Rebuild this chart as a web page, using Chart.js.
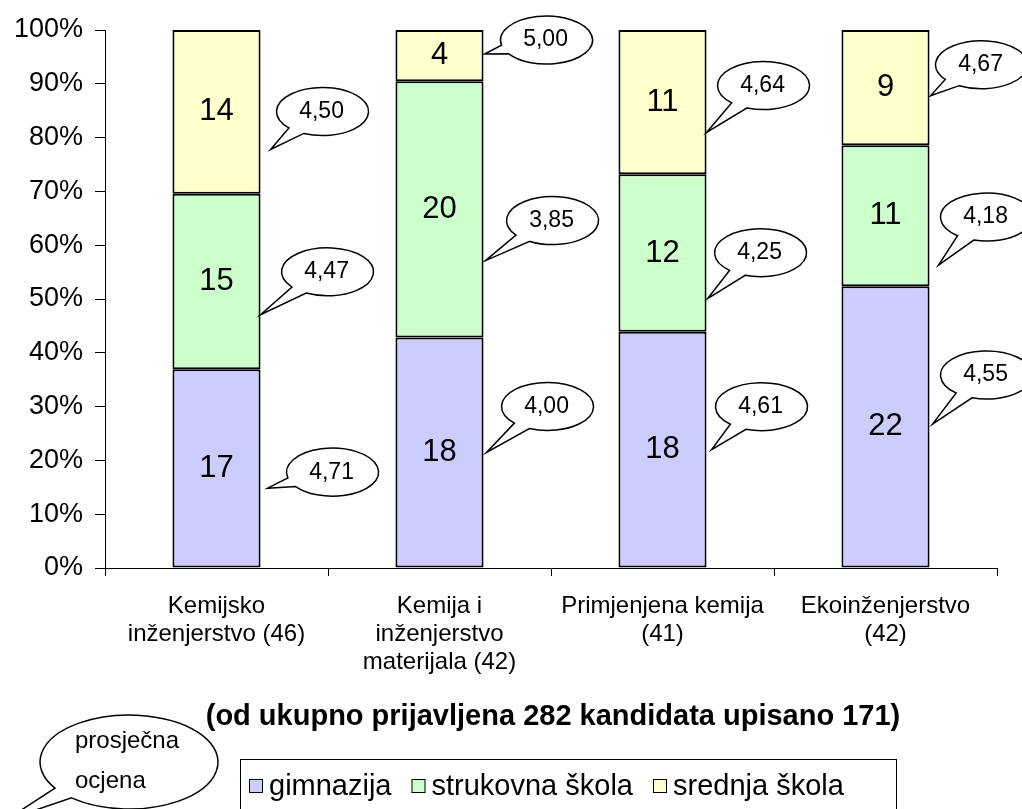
<!DOCTYPE html>
<html>
<head>
<meta charset="utf-8">
<script src="https://cdn.jsdelivr.net/npm/chart.js@4"></script>
<style>
  body { margin: 0; background: #fff; }
  #wrap { width: 1022px; height: 809px; }
</style>
</head>
<body>
<div id="wrap"><canvas id="chart" width="1022" height="809"></canvas></div>
<script>
// Data
const categories = [
    ['Kemijsko', 'inženjerstvo (46)'],
    ['Kemija i', 'inženjerstvo', 'materijala (42)'],
    ['Primjenjena kemija', '(41)'],
    ['Ekoinženjerstvo', '(42)']
];
const seriesNames = ['gimnazija', 'strukovna škola', 'srednja škola'];
const gimnazija = [17, 18, 18, 22];
const strukovna = [15, 20, 12, 11];
const srednja = [14, 4, 11, 9];

// prosječna ocjena (average grade) per series / category
const ocjenaGimnazija = [4.71, 4.00, 4.61, 4.55];
const ocjenaStrukovna = [4.47, 3.85, 4.25, 4.18];
const ocjenaSrednja = [4.50, 5.00, 4.64, 4.67];

const yTicks = [0, 10, 20, 30, 40, 50, 60, 70, 80, 90, 100];
const titleText = '(od ukupno prijavljena 282 kandidata upisano 171)';
const bubbleNote = ['prosječna', 'ocjena'];

// Styles
const fills = ['#CCCCFF', '#CCFFCC', '#FFFFCC'];
const FONT = '"Liberation Sans", Arial, sans-serif';

// bubble placement: [fraction up the segment, gap from bar, dx, dy]
const bubbleSpots = [
    [[0.40, 7, 65, -16], [0.50, 3, 61, -46], [0.50, 5, 50, -43], [0.51, 3, 54, -49]],
    [[0.31, 0, 67, -43], [0.30, 2, 67, -40], [0.21, 1, 53, -46], [0.15, 9, 48, -48]],
    [[0.27, 10, 52, -38], [0.53, 1, 62, -14], [0.29, 0, 57, -47], [0.43, 1, 51, -31]]
];

const counts = [gimnazija, strukovna, srednja];
const grades = [ocjenaGimnazija, ocjenaStrukovna, ocjenaSrednja];
const totals = gimnazija.map((v, i) => v + strukovna[i] + srednja[i]);
const toPct = arr => arr.map((v, i) => v / totals[i] * 100);

const fmt = v => v.toFixed(2).replace('.', ',');

const drawBubble = (ctx, cx, cy, rx, ry, tx, ty, spread) => {
    const th = Math.atan2((ty - cy) / ry, (tx - cx) / rx);
    ctx.beginPath();
    ctx.ellipse(cx, cy, rx, ry, 0, th + spread, th - spread + Math.PI * 2);
    ctx.lineTo(tx, ty);
    ctx.closePath();
    ctx.fillStyle = '#fff';
    ctx.fill();
    ctx.lineWidth = 1.5;
    ctx.strokeStyle = '#000';
    ctx.stroke();
};

const extrasPlugin = {
    id: 'extras',
    afterDatasetsDraw(chart) {
        const ctx = chart.ctx;
        ctx.save();
        counts.forEach((arr, s) => {
            const meta = chart.getDatasetMeta(s);
            meta.data.forEach((el, j) => {
                // count in the middle of the segment
                ctx.fillStyle = '#000';
                ctx.font = '31px ' + FONT;
                ctx.textAlign = 'center';
                ctx.textBaseline = 'middle';
                ctx.fillText(String(arr[j]), el.x, (el.y + el.base) / 2);

                // grade bubble
                const sp = bubbleSpots[s][j];
                const tx = el.x + el.width / 2 + sp[1];
                const ty = el.base + sp[0] * (el.y - el.base);
                const cx = tx + sp[2], cy = ty + sp[3];
                drawBubble(ctx, cx, cy, 46, 24, tx, ty, 0.2);
                ctx.fillStyle = '#000';
                ctx.font = '23px ' + FONT;
                ctx.fillText(fmt(grades[s][j]), cx - 1, cy);
            });
        });
        ctx.restore();
    },
    afterDraw(chart) {
        const ctx = chart.ctx;
        ctx.save();
        // title
        ctx.fillStyle = '#000';
        ctx.font = 'bold 29px ' + FONT;
        ctx.textAlign = 'center';
        ctx.textBaseline = 'middle';
        ctx.fillText(titleText, 553, 717);

        // legend box
        ctx.lineWidth = 1;
        ctx.strokeStyle = '#000';
        ctx.strokeRect(240.5, 759.5, 656, 60);
        ctx.font = '29px ' + FONT;
        ctx.textAlign = 'left';
        let x = 249;
        seriesNames.forEach((name, i) => {
            ctx.fillStyle = fills[i];
            ctx.fillRect(x, 779, 14, 14);
            ctx.strokeRect(x + 0.5, 779.5, 13, 13);
            ctx.fillStyle = '#000';
            ctx.fillText(name, x + 20, 787);
            x += 20 + ctx.measureText(name).width + 20;
        });

        // note bubble
        drawBubble(ctx, 129, 762, 89, 47, 6, 820, 0.14);
        ctx.fillStyle = '#000';
        ctx.font = '24px ' + FONT;
        ctx.textAlign = 'left';
        ctx.fillText(bubbleNote[0], 75, 741);
        ctx.fillText(bubbleNote[1], 75, 781);
        ctx.restore();
    }
};

new Chart(document.getElementById('chart'), {
    type: 'bar',
    data: {
        labels: categories,
        datasets: counts.map((arr, i) => ({
            label: seriesNames[i],
            data: toPct(arr),
            backgroundColor: fills[i],
            borderColor: '#000',
            borderWidth: 2,
            borderSkipped: false,
            categoryPercentage: 1,
            barPercentage: 0.395
        }))
    },
    options: {
        responsive: false,
        animation: false,
        layout: { padding: { top: 30, right: 25, left: 0, bottom: 0 } },
        plugins: {
            legend: { display: false },
            tooltip: { enabled: false }
        },
        scales: {
            x: {
                stacked: true,
                grid: { drawOnChartArea: false, tickLength: 8, color: '#000', offset: true },
                border: { color: '#000', width: 1 },
                ticks: {
                    color: '#000',
                    font: { family: FONT, size: 24, lineHeight: 28 / 24 },
                    padding: 16,
                    maxRotation: 0
                },
                afterFit: s => { s.height = 241; }
            },
            y: {
                stacked: true,
                min: 0,
                max: 100,
                grid: { drawOnChartArea: false, tickLength: 10, color: '#000' },
                border: { color: '#000', width: 1 },
                ticks: {
                    stepSize: 10,
                    color: '#000',
                    font: { family: FONT, size: 27 },
                    padding: 12,
                    callback: v => yTicks.includes(v) ? v + '%' : ''
                },
                afterFit: s => { s.width = 105; }
            }
        }
    },
    plugins: [extrasPlugin]
});
</script>
</body>
</html>
